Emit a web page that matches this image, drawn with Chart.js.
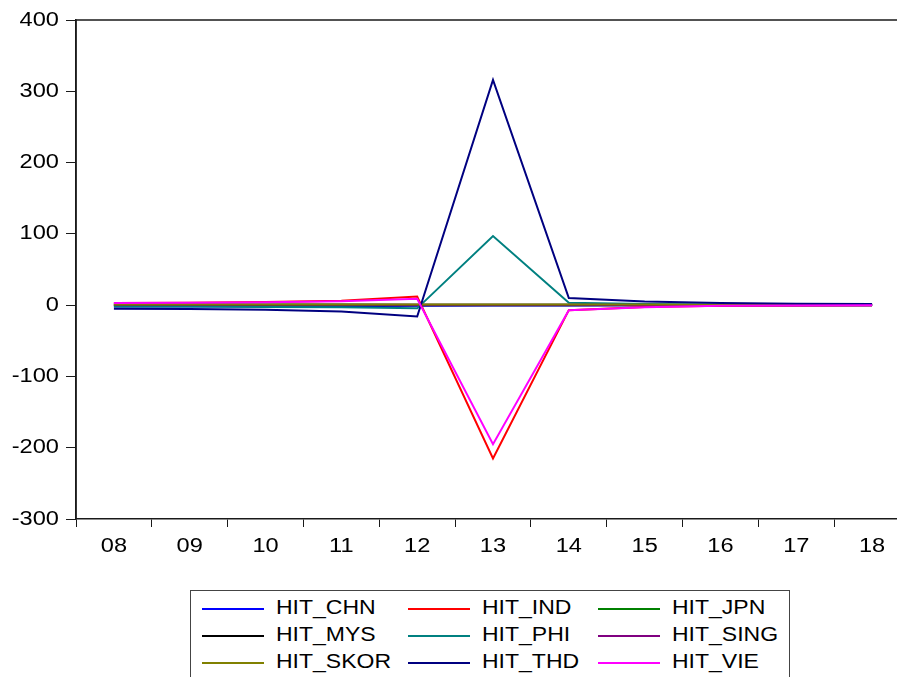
<!DOCTYPE html>
<html>
<head>
<meta charset="utf-8">
<script src="https://cdn.jsdelivr.net/npm/chart.js@4/dist/chart.umd.min.js"></script>
<style>
  html, body { margin:0; padding:0; background:#fff; overflow:hidden; width:897px; height:677px; }
  #wrap { position:absolute; left:0; top:0; width:897px; height:677px; overflow:hidden; }
  #c { position:absolute; left:0; top:0; }
  #legend { position:absolute; left:190px; top:590px; width:600px; height:100px; border:1.5px solid #444; box-sizing:border-box; background:#fff;
            font-family:"Liberation Sans", Arial, sans-serif; font-size:20px; color:#000; }
  .item { position:absolute; height:27px; }
  .swatch { position:absolute; left:0; top:13px; width:62px; height:2px; }
  .lbl { position:absolute; left:74px; top:1px; white-space:nowrap; line-height:23px; transform:scaleX(1.15); transform-origin:0 50%; }
</style>
</head>
<body>
<div id="wrap"><canvas id="c" width="960" height="677"></canvas></div>
<div id="legend"></div>
<script>
// ---- data ----
const categories = ["08","09","10","11","12","13","14","15","16","17","18"];
const seriesNames = ["HIT_CHN","HIT_IND","HIT_JPN","HIT_MYS","HIT_PHI","HIT_SING","HIT_SKOR","HIT_THD","HIT_VIE"];
const seriesColors = ["#0000FF","#FF0000","#008000","#000000","#008080","#800080","#808000","#000080","#FF00FF"];
const hitCHN  = [-2, -2, -2, -1.5, -1, -0.5, -0.5, -0.3, -0.2, -0.1, -0.1];
const hitIND  = [3, 3.5, 4.5, 6, 12, -215, -7, -2.5, -1, -0.5, -0.3];
const hitJPN  = [1, 1, 1, 1, 0.5, 0.5, 0.5, 0.3, 0.2, 0.1, 0.1];
const hitMYS  = [0, 0, 0, 0, 0, 0, 0, 0, 0, 0, 0];
const hitPHI  = [-2, -2, -2.5, -3, -4.5, 97, 3.5, 1.5, 1, 0.5, 0.3];
const hitSING = [0.5, 0.5, 0.5, 0.5, 0.5, 0.5, 0.5, 0.3, 0.2, 0.1, 0.1];
const hitSKOR = [1, 1, 1, 1, 1, 1, 1, 0.8, 0.5, 0.3, 0.2];
const hitTHD  = [-5, -5.5, -6.5, -9, -16, 316, 10, 5, 3, 2, 1.5];
const hitVIE  = [3, 3.5, 4, 5.5, 9, -195, -7, -3, -1, -0.5, -0.3];
const seriesValues = [hitCHN, hitIND, hitJPN, hitMYS, hitPHI, hitSING, hitSKOR, hitTHD, hitVIE];
const yTicks = [-300, -200, -100, 0, 100, 200, 300, 400];

const FONT = '"Liberation Sans", Arial, sans-serif';
const TEXT_STRETCH = 1.18;

// widen canvas text horizontally (reference glyphs are stretched)
const canvas = document.getElementById('c');
const c2d = canvas.getContext('2d');
const origFill = c2d.fillText.bind(c2d);
c2d.fillText = function (t, x, y, mw) {
  this.save();
  this.translate(x, y);
  this.scale(TEXT_STRETCH, 1);
  if (mw === undefined) origFill(t, 0, 0); else origFill(t, 0, 0, mw);
  this.restore();
};

const frame = {
  id: 'frame',
  afterDraw(chart) {
    const {ctx, chartArea:a} = chart;
    ctx.save();
    ctx.strokeStyle = '#1a1a1a';
    ctx.lineWidth = 1.5;
    ctx.beginPath();
    ctx.moveTo(a.left, a.bottom);
    ctx.lineTo(a.left, a.top);
    ctx.lineTo(a.right, a.top);
    ctx.stroke();
    ctx.restore();
  }
};

new Chart(canvas, {
  type: 'line',
  data: {
    labels: categories,
    datasets: seriesNames.map((n, i) => ({
      label: n,
      data: seriesValues[i],
      borderColor: seriesColors[i],
      backgroundColor: seriesColors[i],
      borderWidth: 2,
      pointRadius: 0,
      tension: 0,
      fill: false,
      order: seriesNames.length - i
    }))
  },
  options: {
    responsive: false,
    animation: false,
    devicePixelRatio: 1,
    layout: { padding: { top: 20, right: 50, left: 0, bottom: 0 } },
    plugins: { legend: { display: false }, tooltip: { enabled: false } },
    scales: {
      x: {
        type: 'category',
        offset: true,
        grid: { offset: true, drawOnChartArea: false, drawTicks: true, tickLength: 8, color: '#1a1a1a', lineWidth: 1 },
        border: { display: true, color: '#1a1a1a', width: 1.5 },
        ticks: { color: '#000', font: { family: FONT, size: 20 }, padding: 7, maxRotation: 0, autoSkip: false },
        afterFit(s) { s.height = 677 - 519; }
      },
      y: {
        min: -300, max: 400,
        afterBuildTicks(s) { s.ticks = yTicks.map(v => ({ value: v })); },
        grid: { drawOnChartArea: false, drawTicks: true, tickLength: 10, color: '#1a1a1a', lineWidth: 1 },
        border: { display: true, color: '#1a1a1a', width: 1.5 },
        ticks: { color: '#000', font: { family: FONT, size: 20 }, padding: 7 },
        afterFit(s) { s.width = 76; }
      }
    }
  },
  plugins: [frame]
});

// ---- legend ----
const legend = document.getElementById('legend');
const colX = [11, 217, 407];
const rowY = [4, 31, 58];
seriesNames.forEach((n, i) => {
  const it = document.createElement('div');
  it.className = 'item';
  it.style.left = colX[i % 3] + 'px';
  it.style.top = rowY[Math.floor(i / 3)] + 'px';
  const sw = document.createElement('div');
  sw.className = 'swatch';
  sw.style.background = seriesColors[i];
  const lb = document.createElement('div');
  lb.className = 'lbl';
  lb.textContent = n;
  it.appendChild(sw); it.appendChild(lb);
  legend.appendChild(it);
});
</script>
</body>
</html>
